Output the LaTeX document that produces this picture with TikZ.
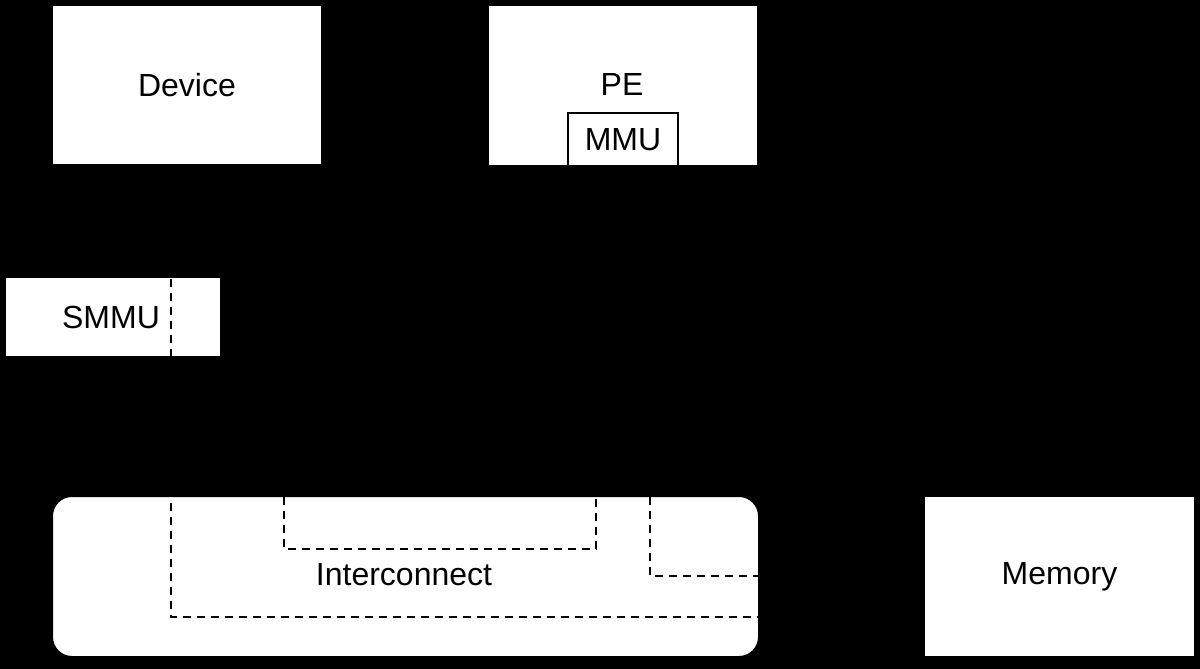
\documentclass[tikz,border=0pt]{standalone}
\usepackage{fontspec}
\setmainfont{Liberation Sans}
\begin{document}
\begin{tikzpicture}[x=1pt,y=-1pt,
  box/.style={draw=black, line width=2pt, fill=white, inner sep=0pt,
    font=\fontsize{32}{38}\selectfont},
  path/.style={draw=black, line width=2pt, dash pattern=on 8pt off 6pt}]
\fill[black] (0,0) rectangle (1200,669);
\useasboundingbox (0,0) rectangle (1200,669);
\node[box, minimum width=270pt, minimum height=160pt] (device) at (187,85) {Device};
\node[box, minimum width=270pt, minimum height=161pt] (pe) at (623,85.5) {};
\node[font=\fontsize{32}{38}\selectfont] (pelabel) at (622,84) {PE};
\node[box, minimum width=110pt, minimum height=53pt] (mmu) at (623,139.5) {MMU};
\node[box, minimum width=216pt, minimum height=80pt] (smmu) at (113,317) {};
\node[font=\fontsize{32}{38}\selectfont] (smmulabel) at (111,317) {SMMU};
\node[box, rounded corners=20pt, minimum width=707pt, minimum height=161pt] (ic) at (405.5,576.5) {};
\node[font=\fontsize{32}{38}\selectfont] (iclabel) at (404,575) {Interconnect};
\node[box, minimum width=271pt, minimum height=161pt] (mem) at (1059.5,576.5) {Memory};
% dashed paths
\coordinate (a1) at (171,279);
\coordinate (a2) at (171,617);
\coordinate (a3) at (758,617);
\draw[path] (a1) -- (a2) -- (a3);
\coordinate (b1) at (284,497);
\coordinate (b2) at (284,549);
\coordinate (b3) at (596,549);
\coordinate (b4) at (596,497);
\draw[path] (b1) -- (b2) -- (b3) -- (b4);
\coordinate (c1) at (650,497);
\coordinate (c2) at (650,576);
\coordinate (c3) at (758,576);
\draw[path] (c1) -- (c2) -- (c3);
\end{tikzpicture}
\end{document}
